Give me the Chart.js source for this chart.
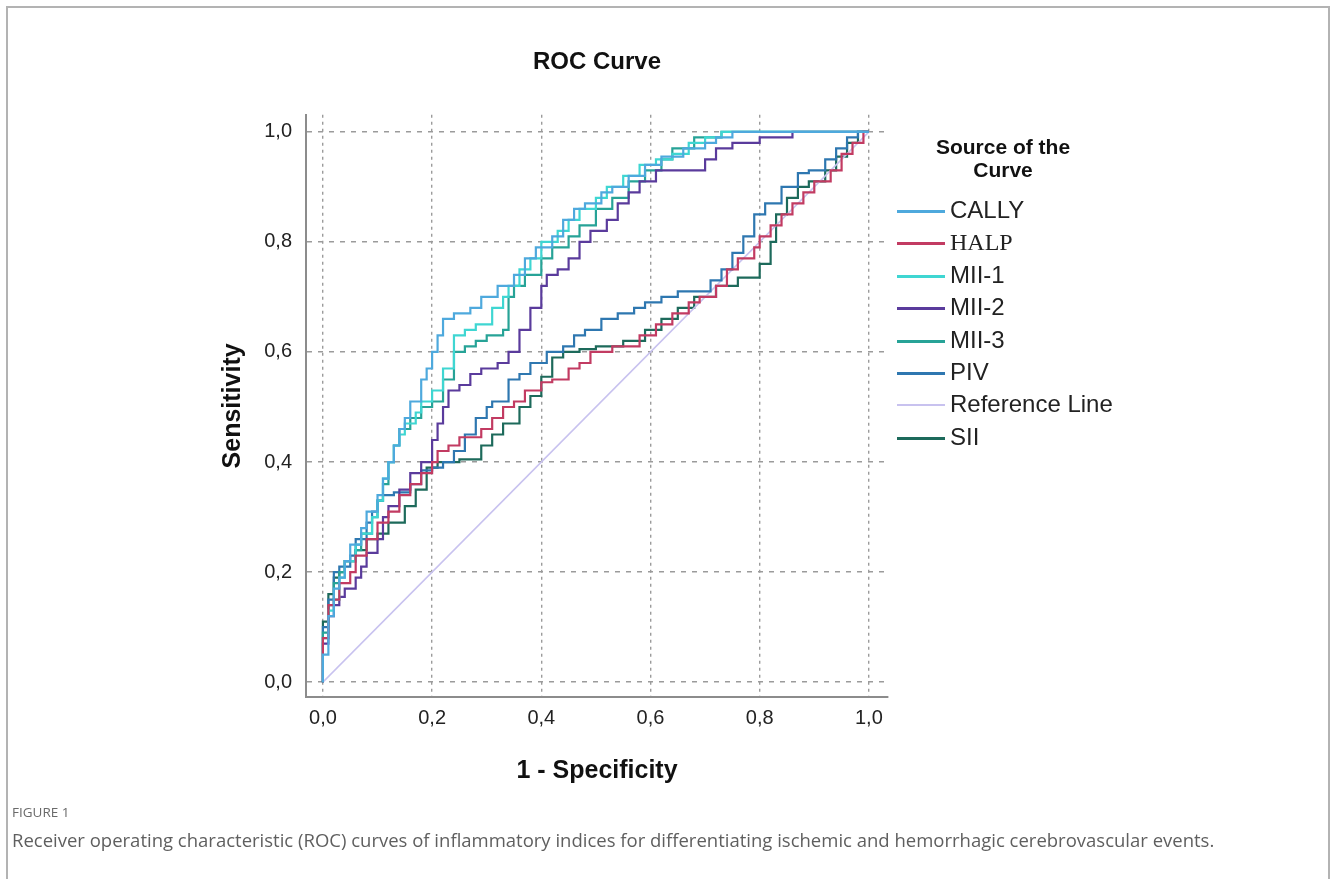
<!DOCTYPE html>
<html>
<head>
<meta charset="utf-8">
<script src="https://cdn.jsdelivr.net/npm/chart.js@4.4.1/dist/chart.umd.min.js"></script>
<style>
  body { margin: 0; background: #fff; }
  #wrap { position: relative; width: 1330px; height: 879px; overflow: hidden; }
  #frame { position: absolute; left: 6px; top: 6px; width: 1320px; height: 900px;
           border: 2px solid #b3b3b3; border-bottom: none; }
  canvas { position: absolute; left: 0; top: 0; }
  #legend { position: absolute; left: 895px; top: 135px; font-family: 'Liberation Sans', Arial, sans-serif; }
  #legend .ttl { width: 216px; text-align: center; font-weight: bold; font-size: 21px; line-height: 23px; color: #111; }
  #legend .item { position: relative; height: 32.4px; }
  #legend .swatch { position: absolute; left: 2px; top: 14px; width: 48px; height: 3px; }
  #legend .lbl { position: absolute; left: 55px; top: -1px; font-size: 24px; line-height: 30px; color: #222; white-space: nowrap; }
  #fig { position: absolute; left: 12px; top: 803px; font-family: 'Open Sans', sans-serif; font-size: 13.5px; color: #6a6a6a; }
  #cap { position: absolute; left: 12px; top: 827px; font-family: 'Open Sans', sans-serif; font-size: 18.5px; color: #5f5f5f; }
</style>
</head>
<body>
<div id="wrap">
  <div id="frame"></div>
  <canvas id="roc" width="1330" height="879"></canvas>
  <div id="legend"><div class="ttl">Source of the<br>Curve</div><div id="items" style="margin-top:15px"></div></div>
  <div id="fig">FIGURE 1</div>
  <div id="cap">Receiver operating characteristic (ROC) curves of inflammatory indices for differentiating ischemic and hemorrhagic cerebrovascular events.</div>
</div>
<script>
const tickVals = [0, 0.2, 0.4, 0.6, 0.8, 1.0];

const seriesNames = ['CALLY', 'HALP', 'MII-1', 'MII-2', 'MII-3', 'PIV', 'Reference Line', 'SII'];
const seriesColors = ['#4ea9dd', '#c23b62', '#3fd6d2', '#5a3b9c', '#27a397', '#2e77b0', '#c8c2ef', '#1d6a5b'];

// 1 - specificity / sensitivity pairs
const callyX = [0, 0, 0.01, 0.01, 0.02, 0.03, 0.04, 0.05, 0.07, 0.08, 0.10, 0.11, 0.12, 0.13, 0.14, 0.15, 0.16, 0.18, 0.19, 0.20, 0.21, 0.22, 0.24, 0.27, 0.29, 0.32, 0.35, 0.37, 0.39, 0.42, 0.44, 0.46, 0.48, 0.51, 0.53, 0.56, 0.59, 0.62, 0.66, 0.70, 0.72, 0.75, 0.80, 1];
const callyY = [0, 0.05, 0.05, 0.10, 0.12, 0.17, 0.19, 0.22, 0.25, 0.28, 0.31, 0.34, 0.37, 0.40, 0.43, 0.46, 0.48, 0.51, 0.55, 0.57, 0.60, 0.63, 0.66, 0.67, 0.68, 0.70, 0.72, 0.74, 0.77, 0.79, 0.81, 0.84, 0.86, 0.87, 0.89, 0.90, 0.92, 0.94, 0.955, 0.97, 0.98, 0.99, 1.0, 1];

const halpX = [0, 0, 0.01, 0.02, 0.03, 0.05, 0.06, 0.08, 0.10, 0.12, 0.14, 0.16, 0.18, 0.20, 0.21, 0.23, 0.25, 0.29, 0.31, 0.33, 0.35, 0.37, 0.40, 0.42, 0.45, 0.47, 0.49, 0.53, 0.58, 0.61, 0.64, 0.67, 0.69, 0.72, 0.74, 0.76, 0.79, 0.80, 0.82, 0.84, 0.86, 0.88, 0.90, 0.93, 0.95, 0.97, 0.99, 1];
const halpY = [0, 0.04, 0.08, 0.14, 0.15, 0.18, 0.20, 0.23, 0.26, 0.29, 0.31, 0.34, 0.36, 0.38, 0.40, 0.42, 0.43, 0.445, 0.46, 0.48, 0.50, 0.51, 0.53, 0.545, 0.55, 0.57, 0.58, 0.60, 0.61, 0.63, 0.65, 0.67, 0.69, 0.70, 0.72, 0.75, 0.77, 0.79, 0.81, 0.83, 0.85, 0.87, 0.89, 0.91, 0.93, 0.96, 0.98, 1];

const mii1X = [0, 0, 0.01, 0.02, 0.03, 0.04, 0.06, 0.07, 0.09, 0.10, 0.11, 0.12, 0.13, 0.14, 0.15, 0.17, 0.18, 0.20, 0.22, 0.24, 0.26, 0.28, 0.31, 0.33, 0.34, 0.36, 0.38, 0.40, 0.43, 0.45, 0.47, 0.50, 0.52, 0.55, 0.58, 0.61, 0.64, 0.67, 0.70, 0.73, 0.76, 1];
const mii1Y = [0, 0.04, 0.08, 0.13, 0.15, 0.19, 0.22, 0.25, 0.27, 0.30, 0.33, 0.37, 0.40, 0.43, 0.45, 0.47, 0.49, 0.51, 0.53, 0.57, 0.63, 0.64, 0.65, 0.68, 0.70, 0.72, 0.75, 0.77, 0.80, 0.82, 0.84, 0.86, 0.88, 0.90, 0.92, 0.94, 0.95, 0.96, 0.98, 0.99, 1.0, 1];

const mii2X = [0, 0, 0.01, 0.02, 0.03, 0.04, 0.06, 0.07, 0.08, 0.10, 0.11, 0.12, 0.14, 0.16, 0.18, 0.20, 0.21, 0.22, 0.23, 0.25, 0.27, 0.29, 0.32, 0.34, 0.36, 0.38, 0.40, 0.41, 0.43, 0.45, 0.47, 0.49, 0.52, 0.54, 0.56, 0.58, 0.61, 0.63, 0.70, 0.72, 0.75, 0.80, 0.86, 0.95, 1];
const mii2Y = [0, 0.03, 0.07, 0.12, 0.14, 0.155, 0.17, 0.19, 0.21, 0.235, 0.26, 0.30, 0.32, 0.35, 0.38, 0.40, 0.44, 0.47, 0.50, 0.53, 0.54, 0.56, 0.57, 0.58, 0.60, 0.64, 0.68, 0.72, 0.74, 0.75, 0.77, 0.80, 0.82, 0.84, 0.87, 0.89, 0.91, 0.93, 0.93, 0.95, 0.97, 0.98, 0.99, 1.0, 1];

const mii3X = [0, 0, 0.01, 0.02, 0.03, 0.04, 0.06, 0.07, 0.09, 0.10, 0.11, 0.12, 0.13, 0.14, 0.16, 0.18, 0.20, 0.22, 0.24, 0.26, 0.28, 0.30, 0.33, 0.34, 0.35, 0.37, 0.40, 0.42, 0.45, 0.47, 0.50, 0.53, 0.56, 0.59, 0.62, 0.64, 0.68, 0.73, 0.84, 1];
const mii3Y = [0, 0.05, 0.09, 0.14, 0.18, 0.20, 0.22, 0.24, 0.27, 0.30, 0.33, 0.36, 0.40, 0.43, 0.46, 0.48, 0.50, 0.51, 0.55, 0.60, 0.61, 0.62, 0.63, 0.64, 0.70, 0.72, 0.74, 0.77, 0.79, 0.81, 0.83, 0.86, 0.88, 0.91, 0.93, 0.95, 0.97, 0.99, 1.0, 1];

const pivX = [0, 0, 0.01, 0.02, 0.03, 0.05, 0.06, 0.08, 0.09, 0.10, 0.11, 0.13, 0.16, 0.18, 0.20, 0.22, 0.24, 0.26, 0.28, 0.30, 0.31, 0.34, 0.36, 0.38, 0.41, 0.44, 0.46, 0.48, 0.51, 0.54, 0.57, 0.59, 0.62, 0.65, 0.71, 0.73, 0.75, 0.77, 0.79, 0.81, 0.84, 0.87, 0.89, 0.92, 0.94, 0.96, 0.98, 1];
const pivY = [0, 0.06, 0.10, 0.15, 0.20, 0.21, 0.23, 0.26, 0.29, 0.31, 0.33, 0.34, 0.345, 0.36, 0.385, 0.39, 0.40, 0.42, 0.45, 0.48, 0.50, 0.51, 0.55, 0.56, 0.58, 0.60, 0.61, 0.63, 0.64, 0.66, 0.67, 0.68, 0.69, 0.70, 0.71, 0.73, 0.75, 0.78, 0.81, 0.85, 0.87, 0.90, 0.925, 0.93, 0.95, 0.97, 0.99, 1];

const refX = [0, 1];
const refY = [0, 1];

const siiX = [0, 0, 0.01, 0.02, 0.03, 0.04, 0.06, 0.08, 0.10, 0.12, 0.15, 0.17, 0.19, 0.21, 0.25, 0.29, 0.31, 0.33, 0.36, 0.38, 0.40, 0.42, 0.44, 0.47, 0.50, 0.55, 0.59, 0.62, 0.65, 0.68, 0.72, 0.76, 0.80, 0.82, 0.83, 0.85, 0.87, 0.89, 0.92, 0.94, 0.96, 0.98, 1];
const siiY = [0, 0.05, 0.11, 0.16, 0.19, 0.20, 0.22, 0.24, 0.26, 0.27, 0.29, 0.32, 0.35, 0.39, 0.40, 0.405, 0.43, 0.45, 0.47, 0.50, 0.52, 0.555, 0.59, 0.60, 0.605, 0.61, 0.62, 0.64, 0.66, 0.68, 0.70, 0.72, 0.735, 0.76, 0.80, 0.85, 0.88, 0.90, 0.91, 0.93, 0.955, 0.98, 1];

const xs = [callyX, halpX, mii1X, mii2X, mii3X, pivX, refX, siiX];
const ys = [callyY, halpY, mii1Y, mii2Y, mii3Y, pivY, refY, siiY];

const datasets = seriesNames.map(function(name, i) {
  const isRef = name === 'Reference Line';
  return {
    label: name,
    data: xs[i].map((x, j) => ({x: x, y: ys[i][j]})),
    borderColor: seriesColors[i],
    borderWidth: isRef ? 1.5 : 2.2,
    stepped: isRef ? false : 'after',
    pointRadius: 0,
    fill: false
  };
});

const comma = v => v.toFixed(1).replace('.', ',');

new Chart(document.getElementById('roc'), {
  type: 'line',
  data: { datasets: datasets },
  options: {
    responsive: false,
    animation: false,
    layout: {
      padding: { left: 200, right: 442, top: 0, bottom: 82 }
    },
    plugins: {
      legend: { display: false },
      tooltip: { enabled: false },
      title: {
        display: true,
        text: 'ROC Curve',
        fullSize: false,
        color: '#111',
        font: { family: 'Liberation Sans', size: 24, weight: 'bold' },
        padding: { top: 48, bottom: 38 }
      }
    },
    scales: {
      x: {
        type: 'linear',
        min: -0.031,
        max: 1.035,
        afterFit: s => { s.height = 100; },
        afterBuildTicks: s => { s.ticks = tickVals.map(v => ({value: v})); },
        border: { display: true, color: '#8c8c8c', width: 2, dash: [3, 4] },
        grid: { color: '#9b9b9b', lineWidth: 1.4, drawTicks: false },
        ticks: {
          padding: 9,
          color: '#222',
          font: { family: 'Liberation Sans', size: 20 },
          callback: v => comma(v)
        },
        title: {
          display: true,
          text: '1 - Specificity',
          color: '#111',
          font: { family: 'Liberation Sans', size: 25, weight: 'bold' },
          padding: { top: 0, bottom: 11 }
        }
      },
      y: {
        type: 'linear',
        min: -0.027,
        max: 1.031,
        afterFit: s => { s.width = 106; },
        afterBuildTicks: s => { s.ticks = tickVals.map(v => ({value: v})); },
        border: { display: true, color: '#8c8c8c', width: 2, dash: [5, 6] },
        grid: { color: '#9b9b9b', lineWidth: 1.4, drawTicks: false },
        ticks: {
          padding: 14,
          color: '#222',
          font: { family: 'Liberation Sans', size: 20 },
          callback: v => comma(v)
        },
        title: {
          display: true,
          text: 'Sensitivity',
          color: '#111',
          font: { family: 'Liberation Sans', size: 25, weight: 'bold' },
          padding: { top: 18, bottom: 0 }
        }
      }
    }
  }
});

// legend on the right, built from the same names and colours
const items = document.getElementById('items');
seriesNames.forEach(function(name, i) {
  const row = document.createElement('div');
  row.className = 'item';
  const sw = document.createElement('div');
  sw.className = 'swatch';
  sw.style.background = seriesColors[i];
  if (name === 'Reference Line') sw.style.height = '2px';
  const lbl = document.createElement('div');
  lbl.className = 'lbl';
  lbl.textContent = name;
  if (name === 'HALP') lbl.style.fontFamily = "'Liberation Serif', serif";
  row.appendChild(sw);
  row.appendChild(lbl);
  items.appendChild(row);
});
</script>
</body>
</html>
